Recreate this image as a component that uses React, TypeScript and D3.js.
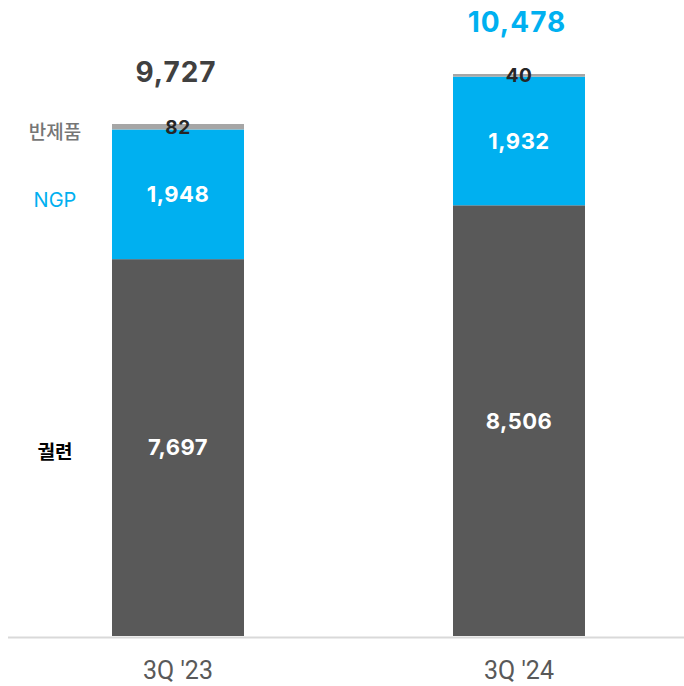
import React from "react";
import * as d3 from "d3";

const categories = ["3Q '23", "3Q '24"];
const seriesNames = ["궐련", "NGP", "반제품"];
const cigarette = [7697, 8506];
const ngp = [1948, 1932];
const semiFinished = [82, 40];
const totals = [9727, 10478];

const W = 684;
const H = 686;

export default function App() {
  const x = d3.scalePoint<string>().domain(categories).range([178, 519]);
  const barW = 132;
  const y = d3.scaleLinear().domain([2037, 10478]).range([636, 74]);
  const fmt = d3.format(",");

  const seriesVals = [cigarette, ngp, semiFinished];
  const colors = ["#595959", "#00b0f0", "#a6a6a6"];
  const labelColors = ["#ffffff", "#ffffff", "#262626"];
  const legendColors = ["#000000", "#00b0f0", "#767676"];
  const labelSizes = [22, 22, 19];

  const stackData = categories.map((c, i) => ({
    cat: c,
    s0: seriesVals[0][i],
    s1: seriesVals[1][i],
    s2: seriesVals[2][i],
  }));
  const stack = d3.stack<any>().keys(["s0", "s1", "s2"]);
  const layers = stack(stackData);

  const yb = (v: number) => Math.min(y(v), 636);

  const numFont = "Inter, 'Noto Sans', sans-serif";
  const axisFont = "Roboto, 'Noto Sans', sans-serif";
  const krFont = "'Noto Sans CJK KR', sans-serif";

  return (
    <svg width={W} height={H} style={{ position: "absolute", left: 0, top: 0 }}>
      <rect x={0} y={0} width={W} height={H} fill="#ffffff" />
      {layers.map((layer, li) =>
        layer.map((d, i) => {
          const cx = x(categories[i])!;
          const y0 = yb(d[0]);
          const y1 = y(d[1]);
          return (
            <rect
              key={`r${li}-${i}`}
              x={cx - barW / 2}
              y={y1}
              width={barW}
              height={Math.max(0, y0 - y1)}
              fill={colors[li]}
            />
          );
        })
      )}
      <line x1={8} x2={684} y1={637.5} y2={637.5} stroke="#d9d9d9" strokeWidth={2} />
      {layers.map((layer, li) =>
        layer.map((d, i) => {
          const cx = x(categories[i])!;
          const cy = (yb(d[0]) + y(d[1])) / 2;
          return (
            <text
              key={`t${li}-${i}`}
              x={cx}
              y={cy}
              dy="0.36em"
              textAnchor="middle"
              fill={labelColors[li]}
              fontFamily={numFont}
              fontWeight={700}
              fontSize={labelSizes[li]}
              letterSpacing={0.5}
            >
              {fmt(seriesVals[li][i])}
            </text>
          );
        })
      )}
      {totals.map((t, i) => (
        <text
          key={`tot${i}`}
          x={x(categories[i])! - 2}
          y={y(t) - 42}
          textAnchor="middle"
          fill={i === 1 ? "#00b0f0" : "#404040"}
          fontFamily={numFont}
          fontWeight={700}
          fontSize={28}
          letterSpacing={1}
        >
          {fmt(t)}
        </text>
      ))}
      {layers.map((layer, li) => {
        const d = layer[0];
        const cy = (yb(d[0]) + y(d[1])) / 2 + 5;
        return (
          <text
            key={`lg${li}`}
            x={55}
            y={cy}
            dy="0.36em"
            textAnchor="middle"
            fill={legendColors[li]}
            fontFamily={li === 1 ? numFont : krFont}
            fontWeight={li === 0 ? 700 : li === 2 ? 500 : 400}
            fontSize={li === 1 ? 20 : 19}
          >
            {seriesNames[li]}
          </text>
        );
      })}
      {categories.map((c) => (
        <text
          key={`ax${c}`}
          x={x(c)!}
          y={679}
          textAnchor="middle"
          fill="#595959"
          fontFamily={axisFont}
          fontSize={25}
        >
          {c}
        </text>
      ))}
    </svg>
  );
}
